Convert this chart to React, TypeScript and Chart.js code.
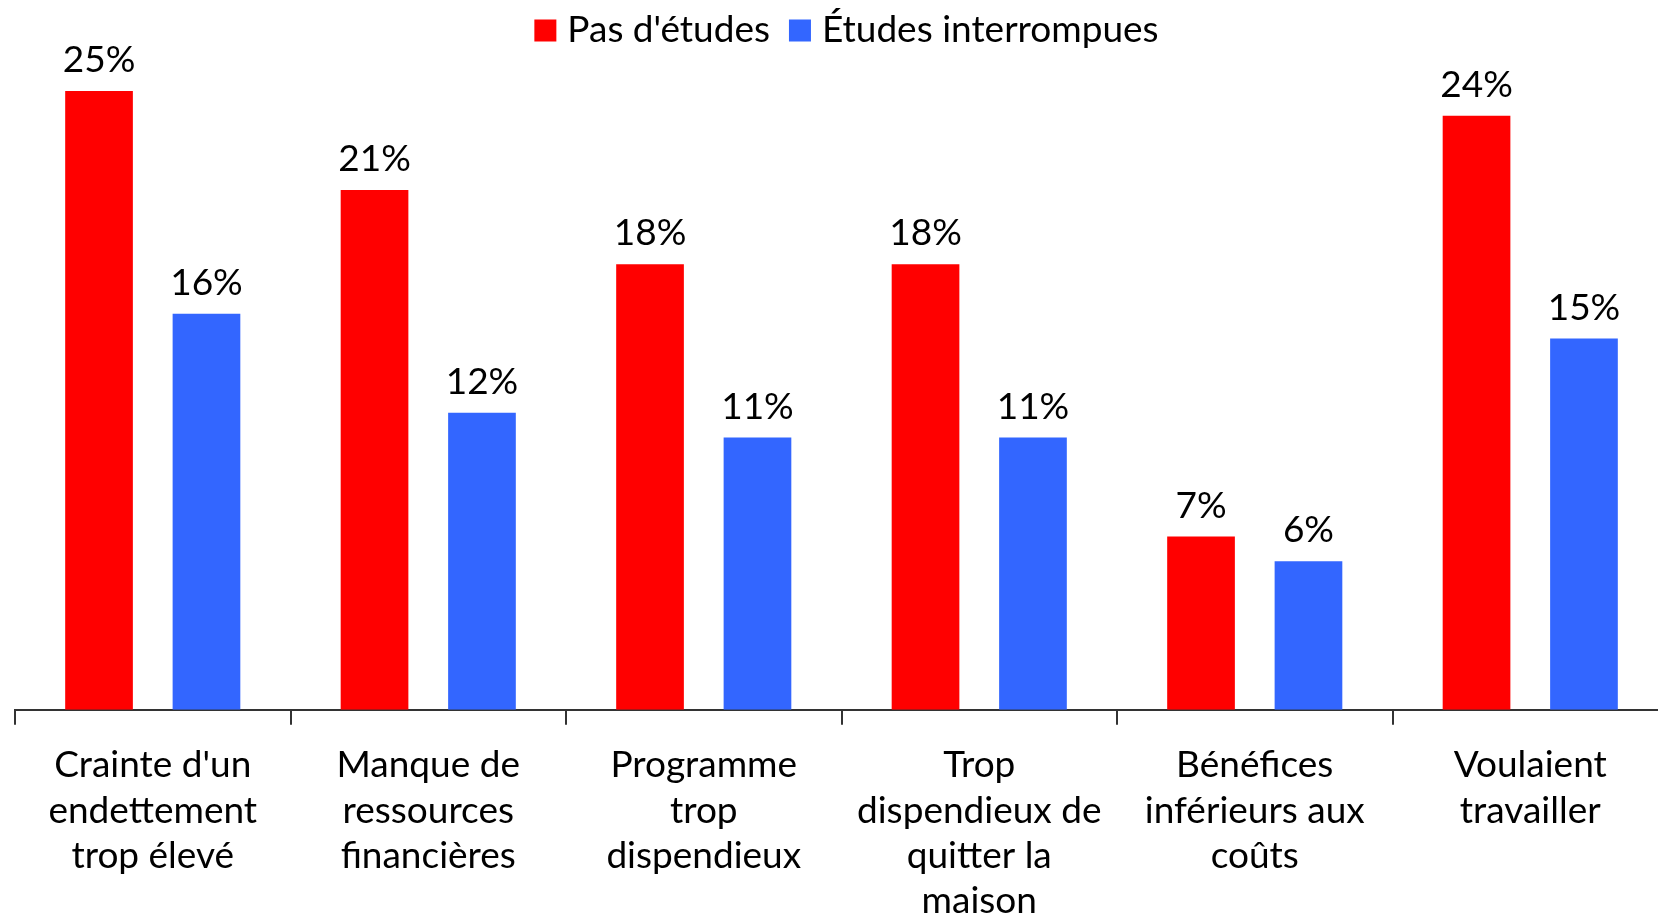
import React, { useEffect, useRef } from "react";
import { Chart, registerables } from "chart.js";

Chart.register(...registerables);

const categories: string[][] = [
  ["Crainte d'un", "endettement", "trop élevé"],
  ["Manque de", "ressources", "financières"],
  ["Programme", "trop", "dispendieux"],
  ["Trop", "dispendieux de", "quitter la", "maison"],
  ["Bénéfices", "inférieurs aux", "coûts"],
  ["Voulaient", "travailler"],
];
const pasEtudes: number[] = [25, 21, 18, 18, 7, 24];
const etudesInterrompues: number[] = [16, 12, 11, 11, 6, 15];
const seriesNames: string[] = ["Pas d'études", "Études interrompues"];
const seriesColors: string[] = ["#FF0000", "#3366FF"];

const FONT = "Lato";
const FONT_SIZE = 37;

const valueLabels = {
  id: "valueLabels",
  afterDatasetsDraw(chart: any) {
    const ctx = chart.ctx;
    ctx.save();
    ctx.font = `${FONT_SIZE}px ${FONT}`;
    ctx.fillStyle = "#000";
    ctx.textAlign = "center";
    ctx.textBaseline = "middle";
    chart.data.datasets.forEach((ds: any, i: number) => {
      const meta = chart.getDatasetMeta(i);
      meta.data.forEach((bar: any, j: number) => {
        ctx.fillText(`${ds.data[j]}%`, bar.x, bar.y - 31);
      });
    });
    ctx.restore();
  },
};

const topLegend = {
  id: "topLegend",
  afterDraw(chart: any) {
    const ctx = chart.ctx;
    ctx.save();
    ctx.font = `${FONT_SIZE}px ${FONT}`;
    ctx.textBaseline = "middle";
    ctx.textAlign = "left";
    const box = 22;
    const gapText = 11;
    const gapItem = 19;
    const items = chart.data.datasets.map((ds: any) => ({
      label: ds.label as string,
      color: ds.backgroundColor as string,
      w: ctx.measureText(ds.label).width,
    }));
    const total =
      items.reduce((s: number, it: any) => s + box + gapText + it.w, 0) +
      gapItem * (items.length - 1);
    const center = (chart.chartArea.left + chart.chartArea.right) / 2 + 5;
    let x = center - total / 2;
    const yText = 29.6;
    items.forEach((it: any) => {
      ctx.fillStyle = it.color;
      ctx.fillRect(x, 19.5, box, box);
      x += box + gapText;
      ctx.fillStyle = "#000";
      ctx.fillText(it.label, x, yText);
      x += it.w + gapItem;
    });
    ctx.restore();
  },
};

export default function App() {
  const ref = useRef<HTMLCanvasElement | null>(null);
  useEffect(() => {
    if (!ref.current) return;
    const chart = new Chart(ref.current, {
      type: "bar",
      data: {
        labels: categories,
        datasets: [
          {
            label: seriesNames[0],
            data: pasEtudes,
            backgroundColor: seriesColors[0],
            categoryPercentage: 0.78,
            barPercentage: 0.63,
          },
          {
            label: seriesNames[1],
            data: etudesInterrompues,
            backgroundColor: seriesColors[1],
            categoryPercentage: 0.78,
            barPercentage: 0.63,
          },
        ],
      },
      options: {
        animation: false,
        responsive: false,
        devicePixelRatio: 1,
        layout: { padding: { left: 15, right: 12, top: 50, bottom: 0 } },
        plugins: {
          legend: { display: false },
          tooltip: { enabled: false },
        },
        scales: {
          x: {
            offset: true,
            grid: {
              offset: true,
              drawOnChartArea: false,
              drawTicks: true,
              tickLength: 15,
              color: "#333",
              lineWidth: 2,
            },
            border: { display: true, color: "#333", width: 2 },
            ticks: {
              color: "#000",
              padding: 18,
              maxRotation: 0,
              autoSkip: false,
              font: { family: FONT, size: FONT_SIZE, lineHeight: 1.224 },
            },
          },
          y: {
            display: false,
            min: 0,
            max: 26.66,
          },
        },
      },
      plugins: [valueLabels, topLegend],
    });
    return () => chart.destroy();
  }, []);
  return (
    <div
      style={{
        position: "fixed",
        left: 0,
        top: 0,
        width: 1658,
        height: 915,
        overflow: "hidden",
        background: "#fff",
      }}
    >
      <canvas ref={ref} width={1680} height={942} style={{ display: "block" }} />
    </div>
  );
}
